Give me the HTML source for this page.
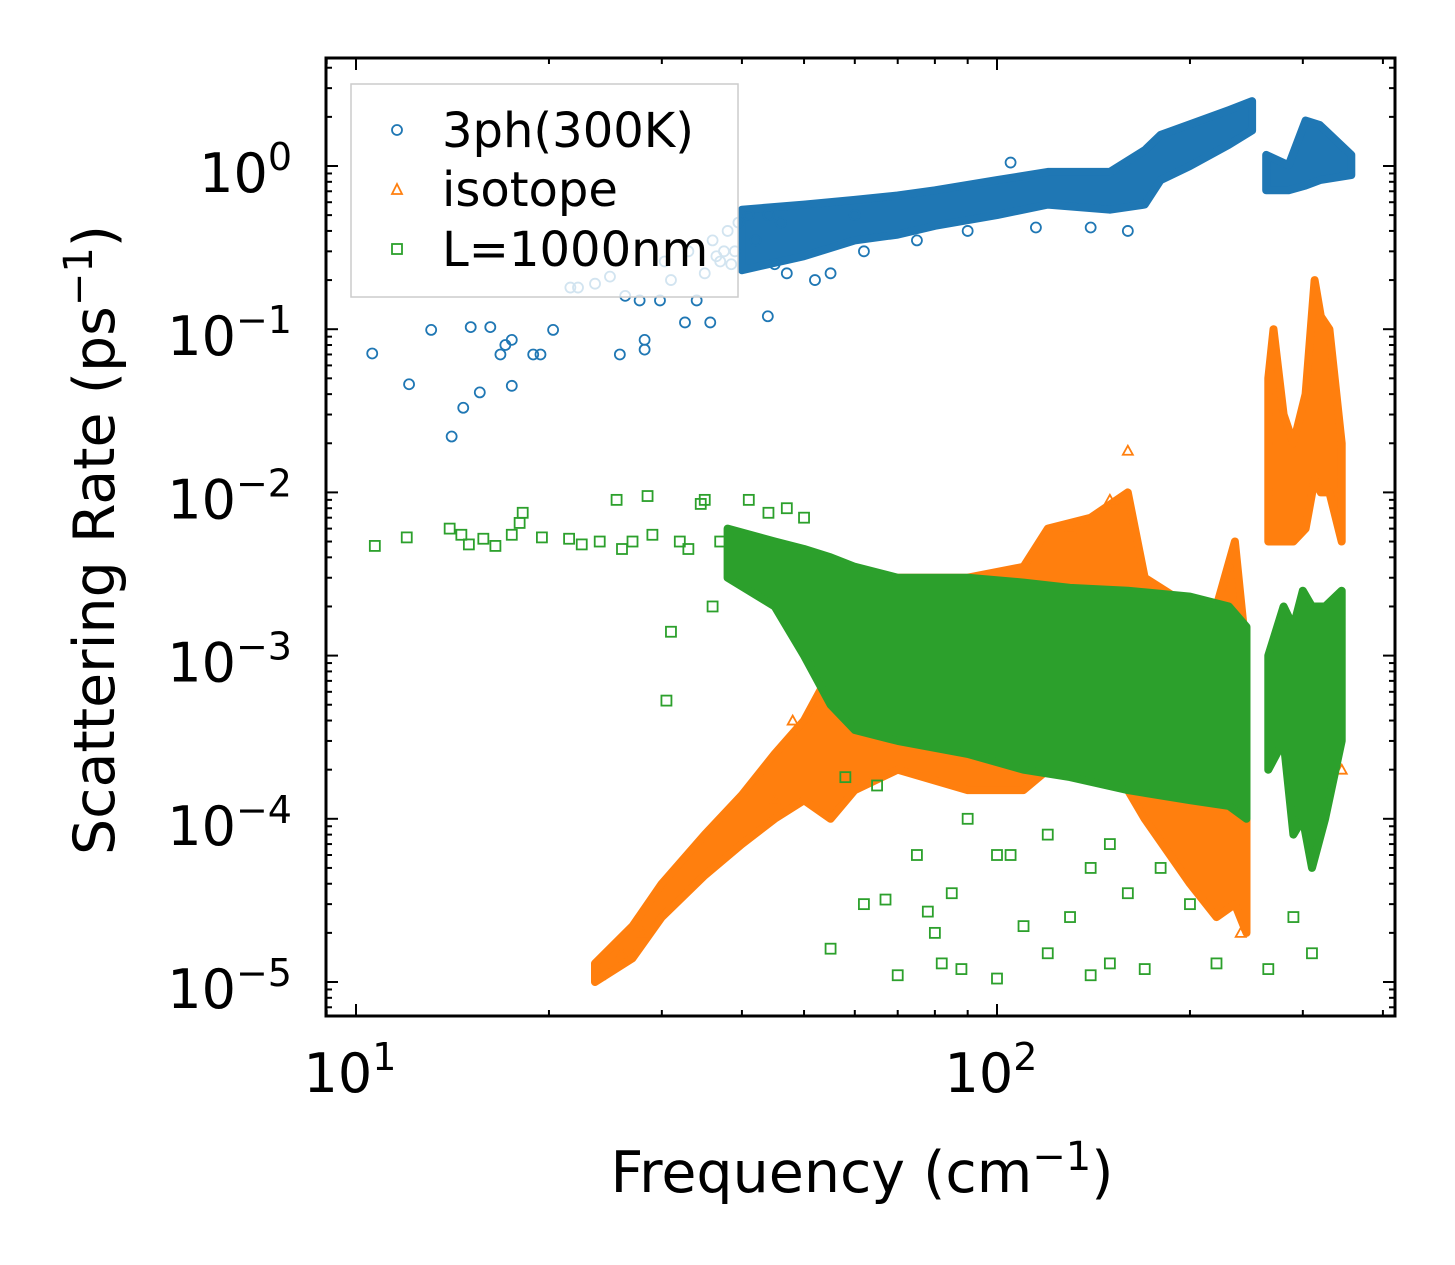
<!DOCTYPE html>
<html><head><meta charset="utf-8"><style>
body{margin:0;background:#fff;}
svg{display:block;font-family:"DejaVu Sans","Liberation Sans",sans-serif;}
</style></head><body>
<svg id="chart" width="1455" height="1265" viewBox="0 0 1455 1265">
<rect width="1455" height="1265" fill="#fff"/>
<g id="plot"></g>
<g id="axes"></g>
<text x="862" y="1192" font-size="57" text-anchor="middle">Frequency (cm<tspan dy="-22" font-size="40">−1</tspan><tspan dy="22">)</tspan></text>
<text transform="translate(114,540) rotate(-90)" font-size="57" text-anchor="middle">Scattering Rate (ps<tspan dy="-22" font-size="40">−1</tspan><tspan dy="22">)</tspan></text>
<g id="legend">
<rect x="351" y="84" width="387" height="213" fill="#fff" fill-opacity="0.8" stroke="#ccc" stroke-width="1.5"/>
<circle cx="397" cy="130" r="5" fill="none" stroke="#1f77b4" stroke-width="1.8"/>
<text x="442" y="147" font-size="48">3ph(300K)</text>
<polygon points="397,184 402,194 392,194" fill="none" stroke="#ff7f0e" stroke-width="1.8"/>
<text x="442" y="206" font-size="48">isotope</text>
<rect x="392" y="244" width="10" height="10" fill="none" stroke="#2ca02c" stroke-width="1.8"/>
<text x="442" y="266" font-size="48">L=1000nm</text>
</g>
</svg>
<script>
// ---- data (frequency cm^-1, rate ps^-1) ----
const blueBand=[[40,0.23,0.54],[50,0.28,0.58],[60,0.35,0.62],[70,0.38,0.66],[80,0.43,0.71],[100,0.5,0.82],[120,0.58,0.92],[150,0.54,0.92],[170,0.58,1.25],[180,0.82,1.55],[200,1.0,1.8],[230,1.35,2.2],[250,1.65,2.5]];
const blueHiBand=[[263,0.71,1.17],[285,0.71,1.01],[303,0.76,1.9],[319,0.82,1.78],[357,0.88,1.17]];
const bluePts=[[10.6,0.071],[12.1,0.046],[13.1,0.099],[14.1,0.022],[14.7,0.033],[15.1,0.103],[15.6,0.041],[16.2,0.103],[16.8,0.07],[17.1,0.08],[17.5,0.045],[17.5,0.086],[18.9,0.07],[19.4,0.07],[20.3,0.099],[21.6,0.18],[22.2,0.18],[23.6,0.19],[24.9,0.21],[25.8,0.07],[26.3,0.16],[27.7,0.15],[28.2,0.075],[28.2,0.086],[29.8,0.15],[30.3,0.26],[32.6,0.11],[34,0.15],[35.7,0.11],[37,0.26],[43.9,0.12],[31,0.2],[33,0.3],[35,0.22],[36,0.35],[38,0.4],[39,0.3],[41,0.5],[42,0.35],[45,0.25],[47,0.22],[52,0.2],[55,0.22],[62,0.3],[75,0.35],[90,0.4],[105,1.05],[115,0.42],[140,0.42],[160,0.4],[60,0.5],[44,0.5],[46,0.45],[37.5,0.3],[38.5,0.25],[39.5,0.45],[36.5,0.28]];
const orangeBand=[[23.6,1.0e-5,1.3e-5],[27,1.4e-5,2.2e-5],[30,2.5e-5,4e-5],[35,4.5e-5,8e-5],[40,7e-5,1.4e-4],[45,1e-4,2.5e-4],[50,1.3e-4,4e-4],[55,1e-4,8e-4],[60,1.5e-4,1.5e-3],[70,2e-4,3e-3],[90,1.5e-4,3e-3],[110,1.5e-4,3.5e-3],[120,2e-4,6e-3],[140,2e-4,7e-3],[160,1.5e-4,1e-2],[170,1e-4,3e-3],[200,4e-5,2e-3],[220,2.5e-5,2e-3],[235,3e-5,5e-3],[245,2e-5,1e-3]];
const orangeHiBand=[[265,5e-3,0.05],[270,5e-3,0.1],[280,5e-3,0.03],[290,5e-3,0.02],[303,6e-3,0.04],[313,0.012,0.2],[320,0.01,0.12],[330,0.01,0.1],[345,5e-3,0.02]];
const orangePts=[[24,1.1e-5],[26,1.5e-5],[28,2e-5],[160,1.8e-2],[345,2e-4],[240,2e-5],[150,9e-3],[130,6e-3],[63,2.5e-3],[58,1.5e-3],[48,4e-4],[52,5e-4],[45,1.3e-4],[300,1.5e-3]];
const greenBand=[[38,3e-3,6e-3],[45,2e-3,5e-3],[50,1e-3,4.5e-3],[55,5e-4,4e-3],[60,3.5e-4,3.5e-3],[70,3e-4,3e-3],[90,2.5e-4,3e-3],[110,2e-4,2.8e-3],[130,1.8e-4,2.6e-3],[160,1.5e-4,2.5e-3],[200,1.3e-4,2.3e-3],[230,1.2e-4,2e-3],[245,1e-4,1.5e-3]];
const greenHiBand=[[265,2e-4,1e-3],[280,3e-4,2e-3],[290,8e-5,1.5e-3],[300,1e-4,2.5e-3],[310,5e-5,2e-3],[325,1e-4,2e-3],[345,3e-4,2.5e-3]];
const greenPts=[[10.7,4.7e-3],[12,5.3e-3],[14,6e-3],[14.6,5.5e-3],[15,4.8e-3],[15.8,5.2e-3],[16.5,4.7e-3],[17.5,5.5e-3],[18,6.5e-3],[18.2,7.5e-3],[19.5,5.3e-3],[21.5,5.2e-3],[22.5,4.8e-3],[24,5e-3],[25.5,9e-3],[26,4.5e-3],[27,5e-3],[28.5,9.5e-3],[29,5.5e-3],[31,1.4e-3],[30.5,5.3e-4],[32,5e-3],[33,4.5e-3],[34.5,8.5e-3],[35,9e-3],[36,2e-3],[37,5e-3],[41,9e-3],[44,7.5e-3],[47,8e-3],[50,7e-3],[62,3e-5],[55,1.6e-5],[67,3.2e-5],[70,1.1e-5],[78,2.7e-5],[82,1.3e-5],[85,3.5e-5],[88,1.2e-5],[80,2e-5],[100,1.05e-5],[110,2.2e-5],[120,1.5e-5],[130,2.5e-5],[140,1.1e-5],[150,1.3e-5],[170,1.2e-5],[160,3.5e-5],[220,1.3e-5],[265,1.2e-5],[310,1.5e-5],[290,2.5e-5],[100,6e-5],[120,8e-5],[140,5e-5],[90,1e-4],[200,3e-5],[180,5e-5],[75,6e-5],[65,1.6e-4],[58,1.8e-4],[105,6e-5],[150,7e-5]];
const xTicks=[10,100];
const yTicks=[-5,-4,-3,-2,-1,0];

// ---- axes functions ----
const L=326,R=1395,T=58,B=1016;
function X(f){return 356+641*Math.log10(f/10);}
function Y(r){return 166-163.2*Math.log10(r);}
const NS="http://www.w3.org/2000/svg";
const plot=document.getElementById('plot'),axes=document.getElementById('axes');
function mk(tag,attrs,parent){const e=document.createElementNS(NS,tag);for(const k in attrs)e.setAttribute(k,attrs[k]);parent.appendChild(e);return e;}

function band(data,color,name){
  const up=data.map(d=>X(d[0]).toFixed(1)+','+Y(d[2]).toFixed(1));
  const lo=data.slice().reverse().map(d=>X(d[0]).toFixed(1)+','+Y(d[1]).toFixed(1));
  const p=mk('polygon',{points:up.concat(lo).join(' '),fill:color,stroke:color,'stroke-width':8,'stroke-linejoin':'round'},plot);
  
  
}
function circles(data,name){data.forEach(d=>{const c=mk('circle',{cx:X(d[0]),cy:Y(d[1]),r:5,fill:'none',stroke:'#1f77b4','stroke-width':1.8},plot);
  
  });}
function tris(data,name){data.forEach(d=>{const x=X(d[0]),y=Y(d[1]);const c=mk('polygon',{points:`${x},${y-5} ${x+5},${y+4} ${x-5},${y+4}`,fill:'none',stroke:'#ff7f0e','stroke-width':1.8},plot);
  
  });}
function squares(data,name){data.forEach(d=>{const x=X(d[0]),y=Y(d[1]);const c=mk('rect',{x:x-5,y:y-5,width:10,height:10,fill:'none',stroke:'#2ca02c','stroke-width':1.8},plot);
  
  });}

band(blueBand,'#1f77b4','3ph-band');
band(blueHiBand,'#1f77b4','3ph-band-high');
circles(bluePts,'3ph-point');
band(orangeBand,'#ff7f0e','isotope-band');
band(orangeHiBand,'#ff7f0e','isotope-band-high');
tris(orangePts,'isotope-point');
band(greenBand,'#2ca02c','boundary-band');
band(greenHiBand,'#2ca02c','boundary-band-high');
squares(greenPts,'boundary-point');

const fr=mk('rect',{x:L,y:T,width:R-L,height:B-T,fill:'none',stroke:'#000','stroke-width':3},axes);


for(let dec=1;dec<=100;dec*=10){for(let m=1;m<=9;m++){const f=dec*m;const x=X(f);if(x<L||x>R)continue;const len=m===1?12:6;
  mk('line',{x1:x,y1:B,x2:x,y2:B-len,stroke:'#000','stroke-width':2},axes);
  mk('line',{x1:x,y1:T,x2:x,y2:T+len,stroke:'#000','stroke-width':2},axes);}}
xTicks.forEach(f=>{const t=mk('text',{x:X(f)-6,y:1092,'font-size':54,'text-anchor':'middle'},axes);
  
  
  t.innerHTML='10<tspan dy="-22" font-size="38">'+Math.log10(f)+'</tspan>';});
for(let e=-6;e<=0;e++){for(let m=1;m<=9;m++){const r=m*Math.pow(10,e);const y=Y(r);if(y<T||y>B)continue;const len=m===1?12:6;
  mk('line',{x1:L,y1:y,x2:L+len,y2:y,stroke:'#000','stroke-width':2},axes);
  mk('line',{x1:R,y1:y,x2:R-len,y2:y,stroke:'#000','stroke-width':2},axes);}}
yTicks.forEach(e=>{const t=mk('text',{x:292,y:Y(Math.pow(10,e))+26,'font-size':54,'text-anchor':'end'},axes);
  
  
  t.innerHTML='10'+'<tspan dy="-22" font-size="38">'+(e<0?'−'+(-e):'0')+'</tspan>';});
</script>
</body></html>
